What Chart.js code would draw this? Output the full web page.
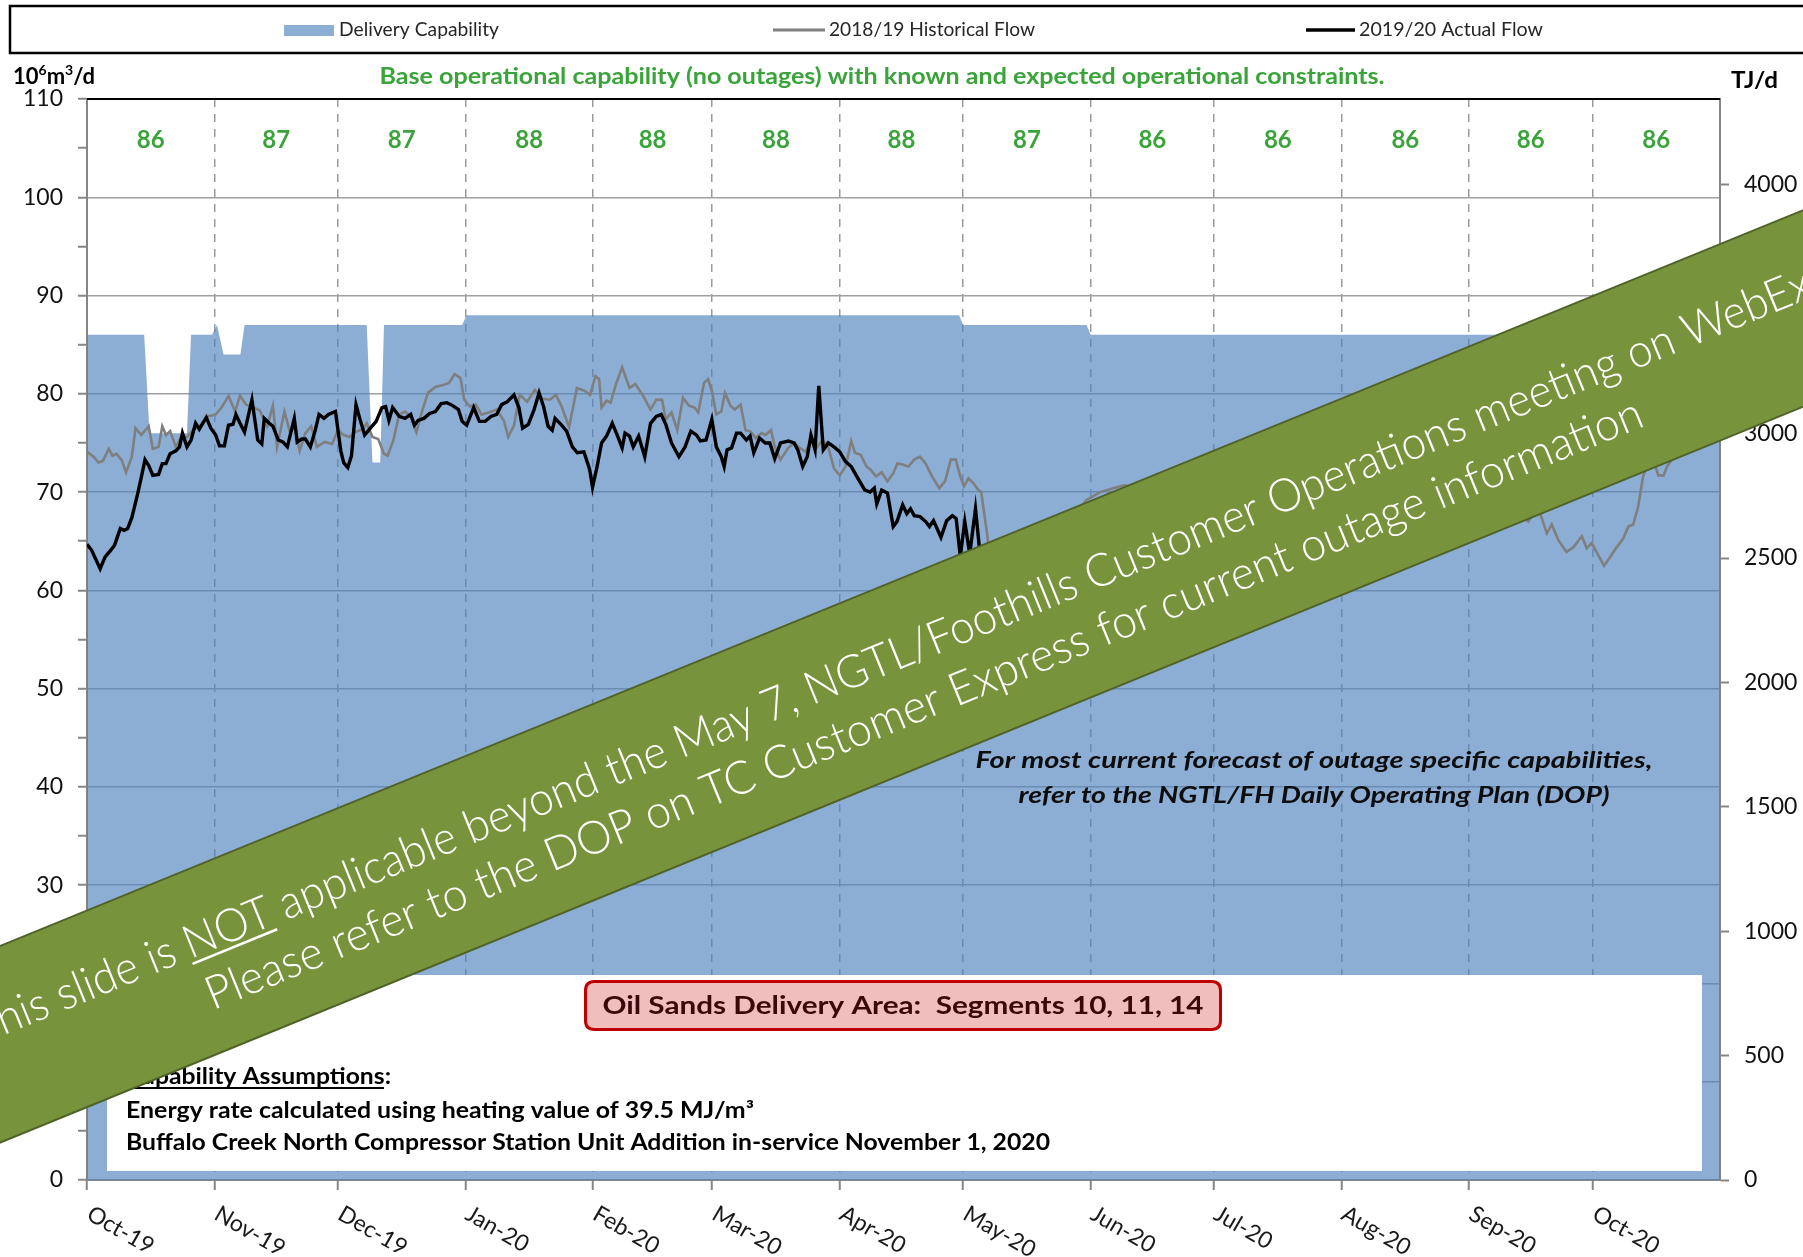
<!DOCTYPE html>
<html>
<head>
<meta charset="utf-8">
<script src="https://cdn.jsdelivr.net/npm/chart.js@4"></script>
<style>
html,body{margin:0;padding:0;background:#fff;}
#wrap{width:1803px;height:1257px;position:relative;}
</style>
</head>
<body>
<div id="wrap"><canvas id="c"></canvas></div>
<script>
// ---------------- DATA ----------------
// x values are days counted from 1 Oct 2019
const monthLabels = ['Oct-19','Nov-19','Dec-19','Jan-20','Feb-20','Mar-20','Apr-20','May-20','Jun-20','Jul-20','Aug-20','Sep-20','Oct-20'];
const monthDays   = [0,31,61,92,123,152,183,213,244,274,305,336,366];
const endDay = 397;
const monthCapability = [86,87,87,88,88,88,88,87,86,86,86,86,86];

const capDays = [0,13.9,15.2,24.3,25.3,30.4,31.6,33.2,37.3,38.3,68,69.4,71.3,72.2,91.2,92.3,212,213,243,244,397];
const capVals = [86,86,76,76,86,86,87,84,84,87,87,73,73,87,87,88,88,87,87,86,86];

const histDays = [0,1.6,2.8,3.9,5.3,6.2,7.2,8.5,9.5,10.9,11.8,13.2,15,16,17.4,18.3,19.2,20.2,21.6,22.9,24.3,25.7,27.6,29.4,31.3,32.7,34.4,36,37.2,38.7,40.1,42,43.8,45.2,46.2,48,49.4,50.5,51.7,53.1,54.5,55.9,57.8,59.6,61,62.4,63.8,65.2,67.1,68,69.4,70.8,72.2,73.1,74.5,75.9,77.3,78.7,80.1,81.5,82.9,84.7,86.6,88,89.4,90.8,91.7,93.1,94.5,95.9,97.7,99.6,101.4,102.4,103.8,105.2,107,108.9,110.7,112.6,114,115.4,117.2,119.1,121,122.3,123.6,
124.5,125.1,126.3,127.3,128.7,130.1,131.9,133.3,135.2,137,138.4,139.8,140.7,142.1,143.5,144.9,146.3,147.7,148.6,150,151,151.9,153,154.2,155.1,156.4,157.5,158.9,160.1,161.2,162.6,164,164.9,166.3,167.2,168.6,170.5,171.9,173.3,174.7,176,177.4,178.8,180.2,181.6,183,184.4,185.8,186.7,188.1,189.5,190.4,191.8,193.2,194.6,196,197,198.3,199.7,201.1,202.5,203.9,205.3,207.2,208.6,210,211.2,212.3,213.2,214.3,215.5,216.7,217.4,217.9,218.8,219.2,
220,222,225,228,231,234,237,239.5,241.4,243,246.3,249.5,252,253.6,
256,259,263,267,271,275,279,283,287,291,295,299,303,307,311,315,319,323,327,331,335,339,343,347,
350.4,351.6,353.3,354.9,356.1,357.7,359.7,361.4,363.4,364.6,365.8,367,368.8,370.3,371.9,373.5,374.7,375.9,377.1,378.3,379.6,380.8,382,383.3,384.1,385.3,386.5,
388,390,392,394,396];
const histVals = [74.1,73.6,73.0,73.2,74.4,73.7,73.9,73.2,72.0,73.6,76.5,75.8,76.7,74.4,74.6,76.7,75.8,76.2,74.6,75.6,75.6,76.3,76.8,77.7,77.9,78.6,79.8,78.2,79.8,78.9,78.7,78.3,76.7,78.8,74.6,78.2,76.0,76.7,74.2,76.0,76.7,74.6,75.1,74.9,76.3,75.8,75.6,76.1,76.4,77.0,75.6,75.4,73.9,73.7,75.3,77.9,78.2,77.7,76.1,78.3,80.1,80.7,80.9,81.1,82.0,81.6,79.4,78.7,78.9,77.9,78.1,78.4,77.2,75.6,76.8,79.9,79.2,80.4,79.5,79.4,79.9,78.7,76.6,80.6,80.3,79.9,81.8,
81.5,78.6,79.3,79.1,81.1,82.7,80.6,81.0,79.8,78.4,79.4,79.4,77.4,78.1,76.3,79.6,78.8,78.6,78.1,81.1,81.5,80.3,77.9,78.2,80.1,78.8,78.4,78.9,76.3,76.2,75.5,76.0,75.8,76.3,74.6,73.3,74.5,75.0,74.5,74.1,75.2,74.5,75.3,74.6,72.4,71.7,72.6,75.2,74.0,73.8,72.6,72.3,71.6,72.0,71.1,71.9,72.9,72.8,72.6,73.3,73.6,72.9,71.7,70.4,71.1,73.3,73.3,71.6,70.6,71.4,70.9,70.2,70.0,68.5,65.8,64.4,
62.8,61.9,62.6,63.5,64.8,65.5,66.8,67.5,68.4,69.2,70.0,70.4,70.7,70.6,
69.8,68.6,69.4,68.2,69.5,70.8,69.9,71.2,70.4,71.8,70.6,72.0,71.1,70.2,71.5,70.3,69.6,70.8,69.9,68.7,69.5,68.4,67.6,68.3,
67.0,67.8,67.8,65.8,66.7,65.1,63.9,64.4,65.5,64.3,64.8,63.9,62.5,63.4,64.4,65.3,66.5,66.7,68.5,71.6,73.1,73.3,71.7,71.7,72.6,73.3,74.0,
74.8,75.5,76.3,76.8,77.5];

const actDays = [0,1.1,3.2,4.4,5.8,6.7,8.1,9,9.9,10.9,12.3,13.2,14.1,15,16,17.4,18.3,19.2,20.2,21.6,22.5,23.2,24.3,25.3,26.4,27.3,29,30.1,31.3,32.2,33.4,34.4,35.5,36.2,37.2,38.3,40.1,41.5,42.5,43.1,44.3,45.2,46.5,47.6,48.7,50.4,51.1,52.2,53.1,54.3,55.5,56.4,57.6,58.7,60.4,61.7,62.4,63.4,64.3,65.4,66.3,67.5,68.9,70.3,71.7,72.6,73.4,74.3,75.9,77.3,78.7,79.6,80.5,81.9,83.3,84.7,86.1,87.5,88.9,90.3,91.2,92.3,94,95.4,96.8,98.2,99.6,
100.8,102.2,103.8,105,105.9,107.3,108.7,109.9,111,112.1,113.1,113.8,115.2,116.6,118,119.2,120.8,122.2,122.9,124,125.1,126.3,127.7,128.9,130.1,130.8,131.9,132.8,134.1,135.6,137,138.4,139.6,140.7,142.1,143.9,145.4,146.8,148.2,149.1,150.5,151.9,153,154.2,154.9,155.6,156.7,157.9,158.9,160.3,161.2,162.1,163.5,164.9,166,167.2,168.6,170.5,171.9,172.8,174,175.1,176,177,177.9,179,180.2,181.6,183,184.4,185.8,187.7,189.1,190.4,191.4,192,193.2,194.6,196,196.9,198.3,199.3,200.2,201.1,202.5,203.9,204.8,205.8,207.6,209,210.4,211.3,212.3,213.4,214.6,216,217.1];
const actVals = [64.7,64.1,62.2,63.4,64.1,64.6,66.3,66.1,66.3,67.4,69.8,71.5,73.3,72.7,71.7,71.8,72.9,72.9,73.9,74.2,74.6,76.0,74.6,75.3,77.0,76.4,77.6,76.5,75.8,74.7,74.7,76.8,76.9,77.9,77.0,76.1,79.4,75.3,74.9,77.5,77.0,76.7,75.3,75.1,74.6,77.5,75.1,75.4,75.4,74.6,76.3,77.9,77.5,77.9,78.2,74.2,73.0,72.5,73.7,78.9,77.5,75.8,76.5,77.2,78.6,78.7,77.3,78.6,77.7,77.5,77.9,76.8,77.3,77.5,78.0,78.2,79.0,79.1,78.8,78.4,77.2,76.8,78.6,77.2,77.2,77.7,77.9,
78.9,79.2,79.9,78.6,76.5,76.9,78.4,80.1,78.7,76.7,76.3,77.5,76.9,76.2,74.6,74.0,74.1,72.3,70.5,72.6,75.0,75.7,77.0,75.8,74.5,76.0,75.7,74.6,75.7,73.6,77.0,77.7,77.9,76.9,75.0,73.6,74.6,76.2,75.8,75.2,75.3,77.4,74.6,73.6,72.6,74.3,74.5,76.0,76.0,75.3,75.7,74.0,75.5,75.0,75.0,73.4,75.0,75.2,75.0,74.3,72.6,73.6,75.8,74.3,80.8,74.3,75.0,74.6,74.1,73.1,72.6,71.2,70.2,70.0,70.4,68.8,70.2,69.9,66.5,67.0,68.7,67.8,68.3,67.6,67.5,67.0,66.5,67.1,65.4,67.1,67.6,67.3,63.5,67.0,63.7,68.3,63.7];

const heatingValue = 39.5;      // MJ/m3
const yMax = 110;
const rightTicks = [0,500,1000,1500,2000,2500,3000,3500,4000];

// ---------------- HELPERS ----------------
const GREEN = '#3AA33A';
const FONT = 'Lato, "Open Sans", sans-serif';
const toPts = (d, v) => d.map((x, i) => ({x: x, y: v[i]}));

function fitText(ctx, text, x, y, w, font, color, align) {
  ctx.save();
  ctx.font = font; ctx.fillStyle = color;
  ctx.textBaseline = 'middle'; ctx.textAlign = 'left';
  const m = ctx.measureText(text).width;
  const sx = w / m;
  ctx.translate(x, y); ctx.scale(sx, 1);
  const x0 = align === 'center' ? -m / 2 : (align === 'right' ? -m : 0);
  ctx.fillText(text, x0, 0);
  ctx.restore();
  return {x0: x + x0 * sx, w: w};
}

function roundRectPath(ctx, x, y, w, h, r) {
  ctx.beginPath();
  ctx.moveTo(x + r, y);
  ctx.lineTo(x + w - r, y); ctx.quadraticCurveTo(x + w, y, x + w, y + r);
  ctx.lineTo(x + w, y + h - r); ctx.quadraticCurveTo(x + w, y + h, x + w - r, y + h);
  ctx.lineTo(x + r, y + h); ctx.quadraticCurveTo(x, y + h, x, y + h - r);
  ctx.lineTo(x, y + r); ctx.quadraticCurveTo(x, y, x + r, y);
  ctx.closePath();
}

const overlay = {
  id: 'overlay',
  afterDraw(chart) {
    const ctx = chart.ctx;
    const xs = chart.scales.x;
    const a = chart.chartArea;
    const ds = chart.data.datasets;

    // top border of plot
    ctx.save();
    ctx.strokeStyle = '#000'; ctx.lineWidth = 2;
    ctx.beginPath(); ctx.moveTo(a.left, a.top); ctx.lineTo(a.right, a.top); ctx.stroke();
    ctx.restore();

    // ---- legend box ----
    ctx.save();
    ctx.strokeStyle = '#000'; ctx.lineWidth = 2.5;
    ctx.strokeRect(10, 6, 1820, 47);
    ctx.fillStyle = ds[0].backgroundColor;
    ctx.fillRect(284, 25, 50, 11);
    ctx.strokeStyle = ds[1].borderColor; ctx.lineWidth = 3;
    ctx.beginPath(); ctx.moveTo(773, 30); ctx.lineTo(825, 30); ctx.stroke();
    ctx.strokeStyle = ds[2].borderColor; ctx.lineWidth = 3.5;
    ctx.beginPath(); ctx.moveTo(1306, 30); ctx.lineTo(1355, 30); ctx.stroke();
    ctx.restore();
    fitText(ctx, ds[0].label, 339, 30, 160, '19px ' + FONT, '#262626', 'left');
    fitText(ctx, ds[1].label, 829, 30, 206, '19px ' + FONT, '#262626', 'left');
    fitText(ctx, ds[2].label, 1359, 30, 184, '19px ' + FONT, '#262626', 'left');

    // ---- unit labels ----
    ctx.save();
    ctx.fillStyle = '#000'; ctx.textBaseline = 'alphabetic'; ctx.textAlign = 'left';
    let ux = 13; const ub = 84;
    const big = 'bold 22px ' + FONT, small = 'bold 14px ' + FONT;
    [['10', big, 0], ['6', small, -9], ['m', big, 0], ['3', small, -9], ['/d', big, 0]].forEach(p => {
      ctx.font = p[1]; ctx.fillText(p[0], ux, ub + p[2]); ux += ctx.measureText(p[0]).width;
    });
    ctx.restore();
    fitText(ctx, 'TJ/d', 1731, 81, 47, 'bold 22px ' + FONT, '#000', 'left');

    // ---- green title ----
    fitText(ctx, 'Base operational capability (no outages) with known and expected operational constraints.',
      882, 77, 1005, 'bold 23px ' + FONT, GREEN, 'center');

    // ---- monthly capability numbers ----
    ctx.save();
    ctx.font = 'bold 24px ' + FONT; ctx.fillStyle = GREEN;
    ctx.textAlign = 'center'; ctx.textBaseline = 'middle';
    monthDays.forEach((d, i) => {
      const next = i + 1 < monthDays.length ? monthDays[i + 1] : endDay;
      ctx.fillText(String(monthCapability[i]), xs.getPixelForValue((d + next) / 2), 140);
    });
    ctx.restore();

    // ---- x tick labels (rotated) ----
    ctx.save();
    ctx.font = '23px ' + FONT; ctx.fillStyle = '#1a1a1a';
    ctx.textAlign = 'left'; ctx.textBaseline = 'middle';
    monthDays.forEach((d, i) => {
      const px = xs.getPixelForValue(d);
      ctx.save(); ctx.translate(px + 2, a.bottom + 32); ctx.rotate(30 * Math.PI / 180);
      ctx.fillText(monthLabels[i], 0, 0); ctx.restore();
    });
    ctx.restore();

    // ---- italic note ----
    fitText(ctx, 'For most current forecast of outage specific capabilities,', 1314, 761, 677, 'italic bold 23px ' + FONT, '#0d0d0d', 'center');
    fitText(ctx, 'refer to the NGTL/FH Daily Operating Plan (DOP)', 1314, 796, 591, 'italic bold 23px ' + FONT, '#0d0d0d', 'center');

    // ---- white assumptions box ----
    ctx.save();
    ctx.fillStyle = '#fff';
    ctx.fillRect(107, 975, 1595, 196);
    ctx.restore();

    // ---- red label box ----
    ctx.save();
    roundRectPath(ctx, 585.5, 981.5, 635, 48, 9);
    ctx.fillStyle = '#F1BEBE'; ctx.fill();
    ctx.lineWidth = 3; ctx.strokeStyle = '#C00000'; ctx.stroke();
    ctx.restore();
    fitText(ctx, 'Oil Sands Delivery Area:  Segments 10, 11, 14', 903, 1006, 601, 'bold 25px ' + FONT, '#3a0808', 'center');

    // ---- assumptions text ----
    fitText(ctx, 'Capability Assumptions:', 126, 1077, 265, 'bold 22px ' + FONT, '#000', 'left');
    ctx.save(); ctx.fillStyle = '#000'; ctx.fillRect(126, 1087, 258, 2); ctx.restore();
    fitText(ctx, 'Energy rate calculated using heating value of ' + heatingValue + ' MJ/m\u00B3', 126, 1111, 628, 'bold 22px ' + FONT, '#000', 'left');
    fitText(ctx, 'Buffalo Creek North Compressor Station Unit Addition in-service November 1, 2020', 126, 1143, 924, 'bold 22px ' + FONT, '#000', 'left');

    // ---- green banner ----
    ctx.save();
    ctx.translate(900, 677);
    ctx.rotate(-22.2 * Math.PI / 180);
    ctx.fillStyle = '#77933C';
    ctx.fillRect(-1400, -91, 2800, 182);
    ctx.strokeStyle = '#4F6228'; ctx.lineWidth = 2;
    ctx.strokeRect(-1400, -91, 2800, 182);
    ctx.fillStyle = '#fff';
    ctx.font = '300 46px ' + FONT;
    ctx.textBaseline = 'alphabetic'; ctx.textAlign = 'left';
    const p1 = 'This slide is ', p2 = 'NOT', p3 = ' applicable beyond the May 7, NGTL/Foothills Customer Operations meeting on WebEx';
    const w1 = ctx.measureText(p1).width, w2 = ctx.measureText(p2).width, w3 = ctx.measureText(p3).width;
    const tot = w1 + w2 + w3;
    ctx.save();
    ctx.scale(1981 / tot, 1);
    const sx0 = -tot / 2;
    ctx.fillText(p1, sx0, -7);
    ctx.fillText(p2, sx0 + w1, -7);
    ctx.fillText(p3, sx0 + w1 + w2, -7);
    ctx.fillRect(sx0 + w1, -3, w2, 2.5);
    ctx.restore();
    const l2 = 'Please refer to the DOP on TC Customer Express for current outage information';
    const wl2 = ctx.measureText(l2).width;
    ctx.save();
    ctx.translate(12, 0);
    ctx.scale(1548 / wl2, 1);
    ctx.fillText(l2, -wl2 / 2, 49);
    ctx.restore();
    ctx.restore();
  }
};

Chart.defaults.font.family = FONT;

new Chart(document.getElementById('c'), {
  type: 'line',
  data: {
    datasets: [
      {label: 'Delivery Capability', data: toPts(capDays, capVals), fill: 'origin',
       backgroundColor: 'rgba(79,129,189,0.65)', borderColor: 'rgba(0,0,0,0)', borderWidth: 0,
       pointRadius: 0, order: 3, yAxisID: 'y'},
      {label: '2018/19 Historical Flow', data: toPts(histDays, histVals), fill: false,
       borderColor: '#7F7F7F', borderWidth: 2.6, pointRadius: 0, order: 2, yAxisID: 'y'},
      {label: '2019/20 Actual Flow', data: toPts(actDays, actVals), fill: false,
       borderColor: '#000000', borderWidth: 3.4, pointRadius: 0, order: 1, yAxisID: 'y'}
    ]
  },
  options: {
    responsive: true, maintainAspectRatio: false, animation: false, devicePixelRatio: 1,
    layout: {padding: {top: 99, left: 0, right: 0, bottom: 0}},
    elements: {line: {tension: 0}},
    plugins: {legend: {display: false}, tooltip: {enabled: false}, title: {display: false}},
    scales: {
      x: {
        type: 'linear', min: 0, max: endDay,
        afterBuildTicks: ax => { ax.ticks = monthDays.map(v => ({value: v})); },
        afterFit: s => { s.height = 77; },
        ticks: {display: false},
        grid: {color: '#9A9A9A', lineWidth: 1.5, tickLength: 10, tickColor: '#868686', tickWidth: 2, tickBorderDash: []},
        border: {display: true, color: '#868686', width: 2, dash: [8, 7]}
      },
      y: {
        position: 'left', min: 0, max: yMax,
        afterFit: s => { s.width = 87; },
        ticks: {stepSize: 5, autoSkip: false, padding: 15, color: '#111', font: {size: 23},
                callback: v => (v % 10 === 0 ? String(v) : '')},
        grid: {color: c => (c.tick && c.tick.value % 10 === 0 ? '#A0A0A0' : 'rgba(0,0,0,0)'),
               lineWidth: 1.5, tickLength: 9, tickColor: '#868686', tickWidth: 2},
        border: {color: '#868686', width: 2}
      },
      y2: {
        position: 'right', min: 0, max: yMax * heatingValue,
        afterFit: s => { s.width = 83; },
        afterBuildTicks: ax => { ax.ticks = rightTicks.map(v => ({value: v})); },
        ticks: {autoSkip: false, padding: 15, color: '#111', font: {size: 23}, callback: v => String(v)},
        grid: {drawOnChartArea: false, tickLength: 9, tickColor: '#868686', tickWidth: 2},
        border: {color: '#868686', width: 2}
      }
    }
  },
  plugins: [overlay]
});
</script>
</body>
</html>
